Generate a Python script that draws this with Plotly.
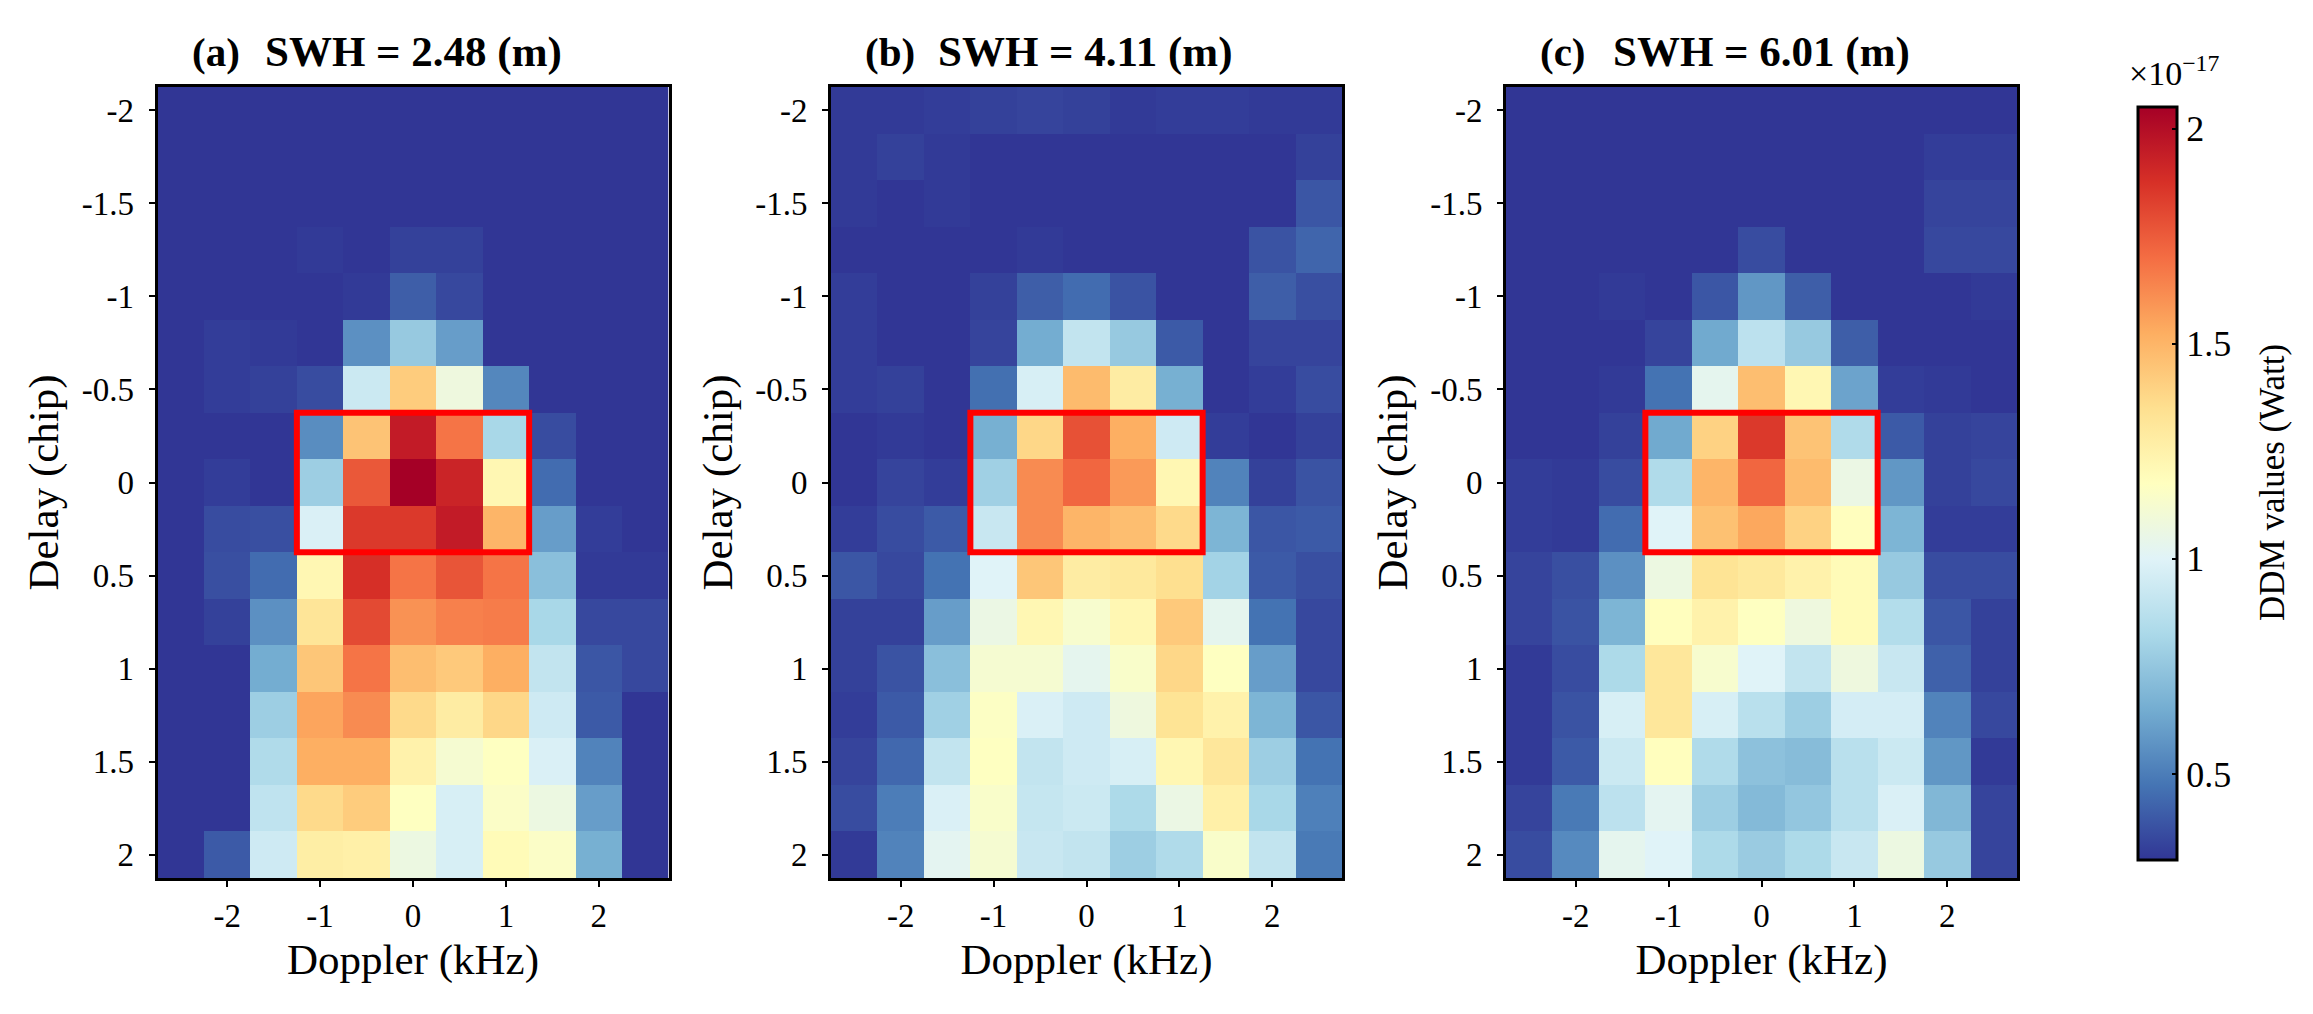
import plotly.graph_objects as go

W, H = 2313, 1014
doppler = [-2.5, -2, -1.5, -1, -0.5, 0, 0.5, 1, 1.5, 2, 2.5]
delay = [-2, -1.75, -1.5, -1.25, -1, -0.75, -0.5, -0.25, 0, 0.25, 0.5, 0.75, 1, 1.25, 1.5, 1.75, 2]

swh_a = [
    [.30,.30,.30,.30,.30,.30,.30,.30,.30,.30,.30],
    [.30,.30,.30,.30,.30,.30,.30,.30,.30,.30,.30],
    [.30,.30,.30,.30,.30,.30,.30,.30,.30,.30,.30],
    [.30,.30,.30,.31,.30,.33,.33,.30,.30,.30,.30],
    [.30,.30,.30,.30,.31,.41,.35,.30,.30,.30,.30],
    [.30,.32,.31,.30,.56,.76,.60,.30,.30,.30,.30],
    [.30,.32,.33,.36,.93,1.42,1.08,.53,.30,.30,.30],
    [.30,.30,.30,.55,1.45,1.95,1.68,.82,.36,.30,.30],
    [.30,.32,.30,.78,1.76,2.05,1.92,1.22,.45,.30,.30],
    [.30,.36,.37,.98,1.85,1.85,1.95,1.50,.60,.32,.30],
    [.30,.37,.45,1.22,1.88,1.68,1.77,1.68,.72,.31,.31],
    [.30,.33,.56,1.32,1.80,1.60,1.65,1.66,.82,.35,.35],
    [.30,.30,.65,1.44,1.68,1.47,1.43,1.52,.90,.39,.35],
    [.30,.30,.78,1.55,1.62,1.37,1.28,1.38,.94,.40,.30],
    [.30,.30,.84,1.52,1.52,1.25,1.12,1.17,.98,.52,.30],
    [.30,.30,.89,1.37,1.42,1.17,.97,1.15,1.07,.60,.30],
    [.30,.40,.94,1.27,1.26,1.07,.97,1.20,1.15,.66,.30],
]
swh_b = [
    [.31,.31,.32,.33,.34,.33,.31,.32,.32,.31,.31],
    [.31,.33,.31,.30,.30,.30,.30,.30,.30,.30,.33],
    [.31,.30,.31,.30,.30,.30,.30,.30,.30,.30,.39],
    [.30,.30,.30,.30,.31,.30,.30,.30,.30,.38,.43],
    [.32,.30,.30,.33,.41,.45,.38,.30,.30,.41,.37],
    [.32,.30,.30,.34,.65,.90,.76,.40,.30,.34,.34],
    [.32,.33,.30,.46,.97,1.48,1.28,.66,.30,.32,.36],
    [.30,.31,.30,.66,1.38,1.78,1.52,.94,.32,.30,.33],
    [.30,.34,.32,.79,1.62,1.72,1.58,1.22,.52,.33,.38],
    [.32,.36,.40,.92,1.62,1.50,1.47,1.37,.68,.39,.40],
    [.39,.35,.47,1.00,1.44,1.28,1.30,1.35,.80,.40,.37],
    [.33,.33,.60,1.06,1.22,1.13,1.22,1.43,1.03,.47,.35],
    [.33,.38,.72,1.12,1.12,1.03,1.14,1.38,1.17,.60,.35],
    [.32,.40,.79,1.16,.98,.94,1.08,1.33,1.25,.68,.39],
    [.34,.44,.90,1.17,.90,.94,.97,1.22,1.31,.78,.47],
    [.36,.50,.98,1.14,.91,.93,.83,1.06,1.26,.82,.51],
    [.31,.52,1.02,1.12,.92,.90,.78,.84,1.14,.90,.49],
]
swh_c = [
    [.30,.30,.30,.30,.30,.30,.30,.30,.30,.30,.30],
    [.30,.30,.30,.30,.30,.30,.30,.30,.30,.32,.32],
    [.30,.30,.30,.30,.30,.30,.30,.30,.30,.34,.34],
    [.30,.30,.30,.30,.30,.36,.30,.30,.30,.35,.35],
    [.30,.30,.31,.30,.39,.58,.41,.30,.30,.30,.31],
    [.30,.30,.30,.34,.64,.88,.76,.41,.30,.30,.30],
    [.30,.30,.31,.47,1.03,1.47,1.22,.62,.32,.31,.30],
    [.30,.30,.33,.64,1.40,1.85,1.45,.84,.40,.33,.34],
    [.32,.31,.36,.84,1.50,1.72,1.48,1.06,.58,.33,.35],
    [.32,.31,.45,1.00,1.46,1.54,1.40,1.18,.68,.32,.32],
    [.34,.37,.56,1.07,1.33,1.30,1.25,1.20,.76,.36,.36],
    [.34,.38,.68,1.18,1.25,1.17,1.08,1.20,.85,.39,.33],
    [.31,.36,.83,1.31,1.13,1.00,.90,1.08,.92,.42,.33],
    [.31,.38,.97,1.31,.97,.87,.78,.96,.96,.52,.35],
    [.31,.40,.93,1.18,.84,.73,.71,.87,.93,.58,.31],
    [.34,.49,.88,1.02,.78,.70,.75,.87,.98,.69,.34],
    [.36,.54,1.03,1.00,.83,.77,.83,.92,1.07,.76,.34],
]
panels = [swh_a, swh_b, swh_c]
panel_tags = ["(a)", "(b)", "(c)"]
panel_swh = ["SWH = 2.48 (m)", "SWH = 4.11 (m)", "SWH = 6.01 (m)"]
x_ticks = [-2, -1, 0, 1, 2]
y_ticks = [-2, -1.5, -1, -0.5, 0, 0.5, 1, 1.5, 2]
y_labels = ["-2", "-1.5", "-1", "-0.5", "0", "0.5", "1", "1.5", "2"]
cb_ticks = [0.5, 1, 1.5, 2]
cb_labels = ["0.5", "1", "1.5", "2"]
box_x = [-1.25, 1.25]
box_y = [-0.375, 0.375]
zmin, zmax = 0.3, 2.05
colors = ["#313695", "#4575b4", "#74add1", "#abd9e9", "#e0f3f8", "#ffffbf",
          "#fee090", "#fdae61", "#f46d43", "#d73027", "#a50026"]
cscale = [[i / 10, c] for i, c in enumerate(colors)]

FONT = "Liberation Serif"
lefts = [157.5, 831, 1506]
pw = 511
top, bottom = 87, 878

fig = go.Figure()
annos = []
shapes = []
layout = {}
for i, (z, l) in enumerate(zip(panels, lefts)):
    s = "" if i == 0 else str(i + 1)
    tr = dict(x=doppler, y=delay, z=z, zmin=zmin, zmax=zmax, colorscale=cscale,
              xaxis="x" + s, yaxis="y" + s, showscale=False)
    if i == 2:
        tr.update(showscale=True, colorbar=dict(
            x=2138 / W, xanchor="left", xpad=0, ypad=0,
            y=1 - 860 / H, yanchor="bottom", len=753 / H, lenmode="fraction",
            thickness=39, thicknessmode="pixels",
            outlinecolor="black", outlinewidth=3,
            tickmode="array", tickvals=cb_ticks, ticktext=cb_labels,
            ticks="inside", ticklen=6, tickwidth=2, tickcolor="black",
            tickfont=dict(family=FONT, size=36, color="black")))
    fig.add_trace(go.Heatmap(**tr))
    layout["xaxis" + s] = dict(
        domain=[l / W, (l + pw) / W], range=[-2.75, 2.75], anchor="y" + s,
        tickmode="array", tickvals=x_ticks, ticktext=[str(t) for t in x_ticks],
        ticks="outside", ticklen=6, tickwidth=2, tickcolor="black",
        showline=True, mirror=True, linecolor="black", linewidth=3,
        showgrid=False, zeroline=False,
        tickfont=dict(family=FONT, size=33, color="black"),
        title=dict(text="Doppler (kHz)", standoff=12,
                   font=dict(family=FONT, size=43, color="black")))
    layout["yaxis" + s] = dict(
        domain=[1 - bottom / H, 1 - top / H], range=[2.125, -2.125], anchor="x" + s,
        tickmode="array", tickvals=y_ticks, ticktext=y_labels,
        ticks="outside", ticklen=6, tickwidth=2, tickcolor="black",
        ticklabelstandoff=8,
        showline=True, mirror=True, linecolor="black", linewidth=3,
        showgrid=False, zeroline=False,
        tickfont=dict(family=FONT, size=33, color="black"),
        title=dict(text="Delay (chip)", standoff=10,
                   font=dict(family=FONT, size=43, color="black")))
    shapes.append(dict(type="rect", xref="x" + s, yref="y" + s,
                       x0=box_x[0], x1=box_x[1], y0=box_y[0], y1=box_y[1],
                       line=dict(color="#ff0000", width=6)))
    annos.append(dict(xref="paper", yref="paper", x=(l + 32) / W, y=1 - 52 / H,
                      xanchor="left", yanchor="middle", showarrow=False,
                      text="<b>%s</b>" % panel_tags[i],
                      font=dict(family=FONT, size=41, color="black")))
    annos.append(dict(xref="paper", yref="paper", x=(l + 105) / W, y=1 - 52 / H,
                      xanchor="left", yanchor="middle", showarrow=False,
                      text="<b>%s</b>" % panel_swh[i],
                      font=dict(family=FONT, size=43, color="black")))
annos.append(dict(xref="paper", yref="paper", x=2127 / W, y=1 - 71 / H,
                  xanchor="left", yanchor="middle", showarrow=False,
                  text="×10<sup>−17</sup>",
                  font=dict(family=FONT, size=34, color="black")))
annos.append(dict(xref="paper", yref="paper", x=2272 / W, y=1 - 483 / H,
                  xanchor="center", yanchor="middle", showarrow=False, textangle=-90,
                  text="DDM values (Watt)",
                  font=dict(family=FONT, size=35, color="black")))

fig.update_layout(width=W, height=H, margin=dict(l=0, r=0, t=0, b=0),
                  paper_bgcolor="white", plot_bgcolor="white",
                  annotations=annos, shapes=shapes, **layout)
fig.write_html("out.html", config={"displayModeBar": False},
               post_script="document.body.style.margin='0';")
